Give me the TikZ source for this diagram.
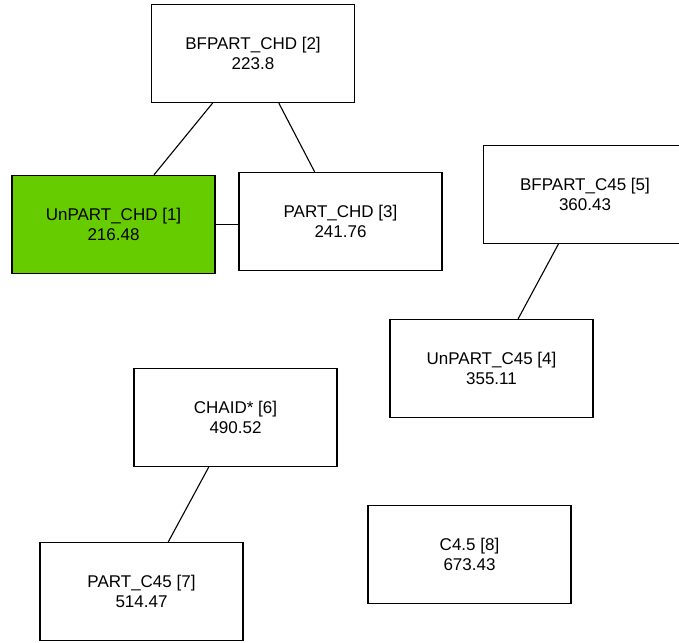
\documentclass[tikz,border=0pt]{standalone}
\usepackage{fontspec}
\setmainfont{Liberation Sans}
\begin{document}
\begin{tikzpicture}[x=1pt,y=-1pt,
  box/.style={draw=black, line width=1.2pt, fill=white, minimum width=203pt, minimum height=98pt, inner sep=0pt, align=center, font=\fontsize{17}{19.5}\selectfont},
  best/.style={box, fill=leafgreen},
  edge/.style={draw=black, line width=1.1pt}]
\definecolor{leafgreen}{HTML}{66CC00}
\useasboundingbox (0,0) rectangle (679,642);
\node[best] (n1) at (113.5,224.5) {UnPART\_CHD [1]\\216.48};
\node[box] (n2) at (253,53.5) {BFPART\_CHD [2]\\223.8};
\node[box] (n3) at (340.5,221.5) {PART\_CHD [3]\\241.76};
\node[box] (n5) at (585,194.5) {BFPART\_C45 [5]\\360.43};
\node[box] (n4) at (491.5,368.5) {UnPART\_C45 [4]\\355.11};
\node[box] (n6) at (235.5,417.5) {CHAID* [6]\\490.52};
\node[box] (n7) at (141.5,591.5) {PART\_C45 [7]\\514.47};
\node[box] (n8) at (469.5,554.5) {C4.5 [8]\\673.43};
\draw[edge] (n2) -- (n1);
\draw[edge] (n2) -- (n3);
\draw[edge] (n1) -- (n1 -| n3.west);
\draw[edge] (n5) -- (n4);
\draw[edge] (n6) -- (n7);
\end{tikzpicture}
\end{document}
